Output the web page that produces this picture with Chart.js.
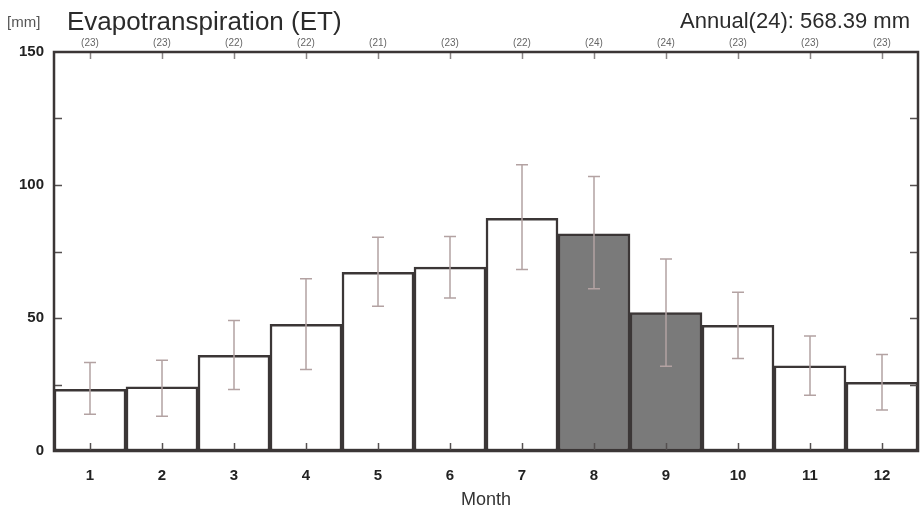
<!DOCTYPE html>
<html>
<head>
<meta charset="utf-8">
<script src="https://cdn.jsdelivr.net/npm/chart.js@4.4.1/dist/chart.umd.min.js"></script>
<style>
  html, body { margin: 0; padding: 0; background: #ffffff; }
  #wrap { width: 922px; height: 511px; position: relative; }
</style>
</head>
<body>
<div id="wrap"><canvas id="c"></canvas></div>
<script>
// ---- Data ----
const months = ['1', '2', '3', '4', '5', '6', '7', '8', '9', '10', '11', '12'];
const sampleCounts = ['(23)', '(23)', '(22)', '(22)', '(21)', '(23)', '(22)', '(24)', '(24)', '(23)', '(23)', '(23)'];
const etMean = [23.2, 24.1, 36.0, 47.6, 67.2, 69.1, 87.5, 81.6, 52.0, 47.2, 32.0, 25.8];
const etHigh = [33.3, 34.1, 49.1, 64.8, 80.4, 80.6, 107.6, 103.2, 72.2, 59.7, 43.2, 36.3];
const etLow  = [13.8, 13.1, 23.1, 30.6, 54.4, 57.5, 68.2, 61.0, 31.9, 34.8, 21.0, 15.4];
const shadedMonths = ['8', '9'];
const yTickValues = [0, 50, 100, 150];
const titleText = 'Evapotranspiration (ET)';
const unitText = '[mm]';
const annualText = 'Annual(24): 568.39 mm';
const xTitle = 'Month';

const FRAME = '#3b3636';
const barFill = months.map(m => shadedMonths.includes(m) ? '#7a7a7a' : '#ffffff');

const errorBarPlugin = {
  id: 'errorBars',
  afterDatasetsDraw(chart) {
    const {ctx, scales: {x, y}} = chart;
    ctx.save();
    ctx.strokeStyle = '#b3a2a2';
    ctx.lineWidth = 1.5;
    months.forEach((m, i) => {
      const px = x.getPixelForValue(i);
      const yh = y.getPixelForValue(etHigh[i]);
      const yl = y.getPixelForValue(etLow[i]);
      ctx.beginPath();
      ctx.moveTo(px, yh); ctx.lineTo(px, yl);
      ctx.moveTo(px - 6, yh); ctx.lineTo(px + 6, yh);
      ctx.moveTo(px - 6, yl); ctx.lineTo(px + 6, yl);
      ctx.stroke();
    });
    ctx.restore();
  }
};

const framePlugin = {
  id: 'frameAndTicks',
  afterDraw(chart) {
    const {ctx, chartArea: a, scales: {x, y}} = chart;
    ctx.save();
    ctx.lineWidth = 1.5;
    ctx.strokeStyle = '#555050';
    for (let v = 25; v < 150; v += 25) {
      const py = Math.round(y.getPixelForValue(v)) + 0.5;
      ctx.beginPath();
      ctx.moveTo(a.left, py); ctx.lineTo(a.left + 8, py);
      ctx.moveTo(a.right, py); ctx.lineTo(a.right - 8, py);
      ctx.stroke();
    }
    months.forEach((m, i) => {
      const px = Math.round(x.getPixelForValue(i)) + 0.5;
      ctx.beginPath();
      ctx.strokeStyle = '#555050';
      ctx.moveTo(px, a.bottom); ctx.lineTo(px, a.bottom - 8);
      ctx.stroke();
      ctx.beginPath();
      ctx.strokeStyle = '#8a8585';
      ctx.moveTo(px, a.top); ctx.lineTo(px, a.top + 7);
      ctx.stroke();
    });
    ctx.strokeStyle = FRAME;
    ctx.lineWidth = 2.5;
    ctx.strokeRect(a.left, a.top, a.right - a.left, a.bottom - a.top);
    ctx.textBaseline = 'alphabetic';
    ctx.fillStyle = '#555';
    ctx.font = '15px "Liberation Sans", Arial, sans-serif';
    ctx.textAlign = 'left';
    ctx.fillText(unitText, 7, 27);
    ctx.fillStyle = '#2b2b2b';
    ctx.font = '26px "Liberation Sans", Arial, sans-serif';
    ctx.fillText(titleText, 67, 30);
    ctx.font = '22px "Liberation Sans", Arial, sans-serif';
    ctx.textAlign = 'right';
    ctx.fillText(annualText, 910, 28);
    ctx.restore();
  }
};

new Chart(document.getElementById('c'), {
  type: 'bar',
  data: {
    labels: months,
    datasets: [{
      data: etMean,
      backgroundColor: barFill,
      borderColor: FRAME,
      borderWidth: 2.5,
      borderSkipped: false,
      barPercentage: 1,
      categoryPercentage: 1
    }]
  },
  options: {
    responsive: true,
    maintainAspectRatio: false,
    animation: false,
    layout: { padding: { left: 0, right: 4, top: 0, bottom: 0 } },
    plugins: { legend: { display: false }, tooltip: { enabled: false }, title: { display: false } },
    scales: {
      x: {
        position: 'bottom',
        grid: { display: false, drawTicks: false },
        border: { display: false },
        ticks: { color: '#222', padding: 16, font: { family: '"Liberation Sans", Arial, sans-serif', size: 15, weight: 'bold' } },
        title: { display: true, text: xTitle, color: '#333', padding: { top: 0, bottom: 0 }, font: { family: '"Liberation Sans", Arial, sans-serif', size: 18 } },
        afterFit(s) { s.height = 60; }
      },
      x2: {
        type: 'category',
        labels: sampleCounts,
        position: 'top',
        offset: true,
        grid: { display: false, drawTicks: false },
        border: { display: false },
        ticks: { color: '#666', padding: 3, font: { family: '"Liberation Sans Narrow", "Liberation Sans", Arial, sans-serif', size: 10 } },
        afterFit(s) { s.height = 52; }
      },
      y: {
        min: 0, max: 150,
        afterBuildTicks(s) { s.ticks = yTickValues.map(v => ({ value: v })); },
        grid: { display: false, drawTicks: false },
        border: { display: false },
        ticks: { color: '#222', padding: 10, font: { family: '"Liberation Sans", Arial, sans-serif', size: 15, weight: 'bold' } },
        afterFit(s) { s.width = 54; }
      }
    }
  },
  plugins: [errorBarPlugin, framePlugin]
});
</script>
</body>
</html>
